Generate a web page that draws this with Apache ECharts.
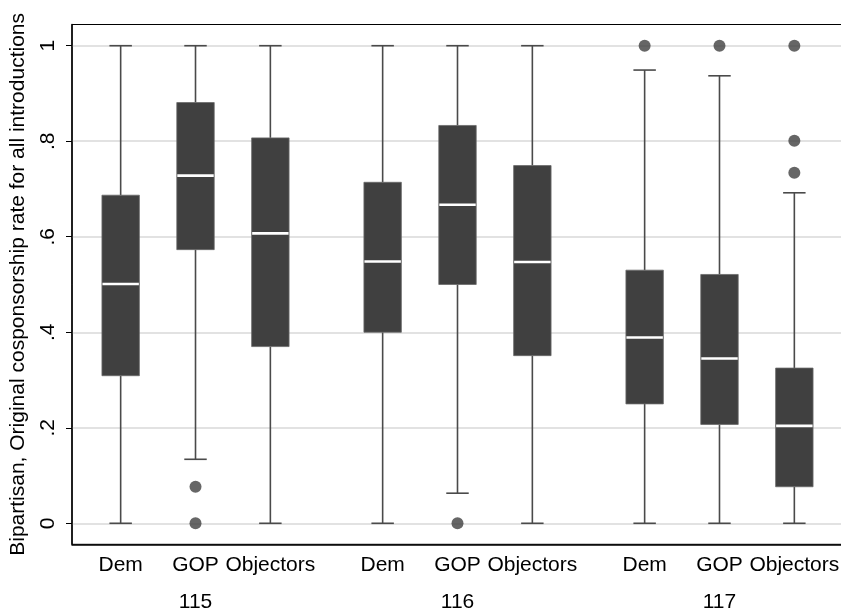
<!DOCTYPE html>
<html>
<head>
<meta charset="utf-8">
<script src="https://cdn.jsdelivr.net/npm/echarts@6/dist/echarts.min.js"></script>
<style>html,body{margin:0;padding:0;background:#fff;}#c{width:841px;height:615px;}</style>
</head>
<body>
<div id="c"></div>
<script>
// ---- data ----
const categories = ['Dem', 'GOP', 'Objectors'];
const congresses = ['115', '116', '117'];
const lowWhisker  = [0,     0.134, 0,     0,     0.063, 0,     0,     0,     0];
const q1          = [0.309, 0.573, 0.370, 0.400, 0.500, 0.351, 0.250, 0.207, 0.0765];
const median      = [0.501, 0.728, 0.607, 0.548, 0.667, 0.547, 0.389, 0.345, 0.204];
const q3          = [0.687, 0.881, 0.807, 0.714, 0.833, 0.749, 0.530, 0.521, 0.325];
const highWhisker = [1,     1,     1,     1,     1,     1,     0.949, 0.937, 0.692];
// outliers: [box index, value]
const outliers = [[1, 0.0765], [1, 0], [4, 0], [6, 1], [7, 1], [8, 1], [8, 0.801], [8, 0.734]];
const yTicks = [0, 0.2, 0.4, 0.6, 0.8, 1];
const yTitle = 'Bipartisan, Original cosponsorship rate for all introductions';

// ---- layout of boxes along x (groups separated by a gap) ----
const posOf = i => Math.floor(i / 3) * 7 + (i % 3) * 2;
const xPos = median.map((_, i) => posOf(i));
const boxData = median.map((m, i) => [xPos[i], lowWhisker[i], q1[i], m, q3[i], highWhisker[i]]);
const outData = outliers.map(o => [posOf(o[0]), o[1]]);

const FONT = 'Liberation Sans, Arial, Helvetica, sans-serif';
const BOX = '#404040';

function renderItem(params, api) {
  const x = api.value(0);
  const lo = api.coord([x, api.value(1)]);
  const b1 = api.coord([x, api.value(2)]);
  const md = api.coord([x, api.value(3)]);
  const b3 = api.coord([x, api.value(4)]);
  const hi = api.coord([x, api.value(5)]);
  const bw = api.size([1, 0])[0];
  const cw = api.size([0.6, 0])[0];
  const cx = lo[0];
  const ws = { stroke: '#4a4a4a', lineWidth: 1.6 };
  return {
    type: 'group',
    children: [
      { type: 'line', shape: { x1: cx, y1: lo[1], x2: cx, y2: b1[1] }, style: ws },
      { type: 'line', shape: { x1: cx, y1: b3[1], x2: cx, y2: hi[1] }, style: ws },
      { type: 'line', shape: { x1: cx - cw / 2, y1: lo[1], x2: cx + cw / 2, y2: lo[1] }, style: ws },
      { type: 'line', shape: { x1: cx - cw / 2, y1: hi[1], x2: cx + cw / 2, y2: hi[1] }, style: ws },
      { type: 'rect', shape: { x: cx - bw / 2, y: b3[1], width: bw, height: b1[1] - b3[1] },
        style: { fill: BOX, stroke: '#6a6a6a', lineWidth: 0.8 } },
      { type: 'line', shape: { x1: cx - bw / 2 + 0.5, y1: md[1], x2: cx + bw / 2 - 0.5, y2: md[1] },
        style: { stroke: '#ffffff', lineWidth: 2.6 } }
    ]
  };
}

const chart = echarts.init(document.getElementById('c'), null, { renderer: 'canvas' });
chart.setOption({
  animation: false,
  backgroundColor: '#ffffff',
  grid: { left: 72, right: -2, top: 24.5, bottom: 70.7, show: true, borderColor: '#000', borderWidth: 1,
          containLabel: false, outerBoundsMode: 'none' },
  xAxis: {
    type: 'value', min: -1.3, max: 19.3,
    axisLine: { show: true, onZero: false, lineStyle: { color: '#000', width: 1.5 } },
    axisTick: { show: false },
    splitLine: { show: false },
    axisLabel: {
      customValues: xPos,
      margin: 2,
      color: '#000',
      fontFamily: FONT,
      fontSize: 21,
      lineHeight: 37,
      formatter: function (v) {
        const i = xPos.indexOf(v);
        if (i < 0) return '';
        let s = categories[i % 3];
        if (i % 3 === 1) s += '\n' + congresses[Math.floor(i / 3)];
        return s;
      }
    }
  },
  yAxis: {
    type: 'value', min: -0.044, max: 1.0444,
    name: yTitle, nameLocation: 'middle', nameGap: 43,
    nameTextStyle: { color: '#000', fontFamily: FONT, fontSize: 21 },
    axisLine: { show: true, onZero: false, lineStyle: { color: '#000', width: 1.5 } },
    axisTick: { show: true, length: 6, customValues: yTicks, lineStyle: { color: '#000' } },
    splitLine: { show: true, lineStyle: { color: '#d9d9d9', width: 1.5 } },
    axisLabel: {
      customValues: yTicks,
      rotate: 90,
      margin: 13,
      color: '#000',
      fontFamily: FONT,
      fontSize: 21,
      formatter: v => (v === 0 || v === 1) ? String(v) : String(v).replace(/^0\./, '.')
    }
  },
  series: [
    { type: 'custom', renderItem: renderItem, data: boxData, encode: { x: 0, y: [1, 2, 3, 4, 5] }, clip: false, z: 2 },
    { type: 'scatter', data: outData, symbol: 'circle', symbolSize: 12, itemStyle: { color: BOX }, z: 3 }
  ]
});
</script>
</body>
</html>
